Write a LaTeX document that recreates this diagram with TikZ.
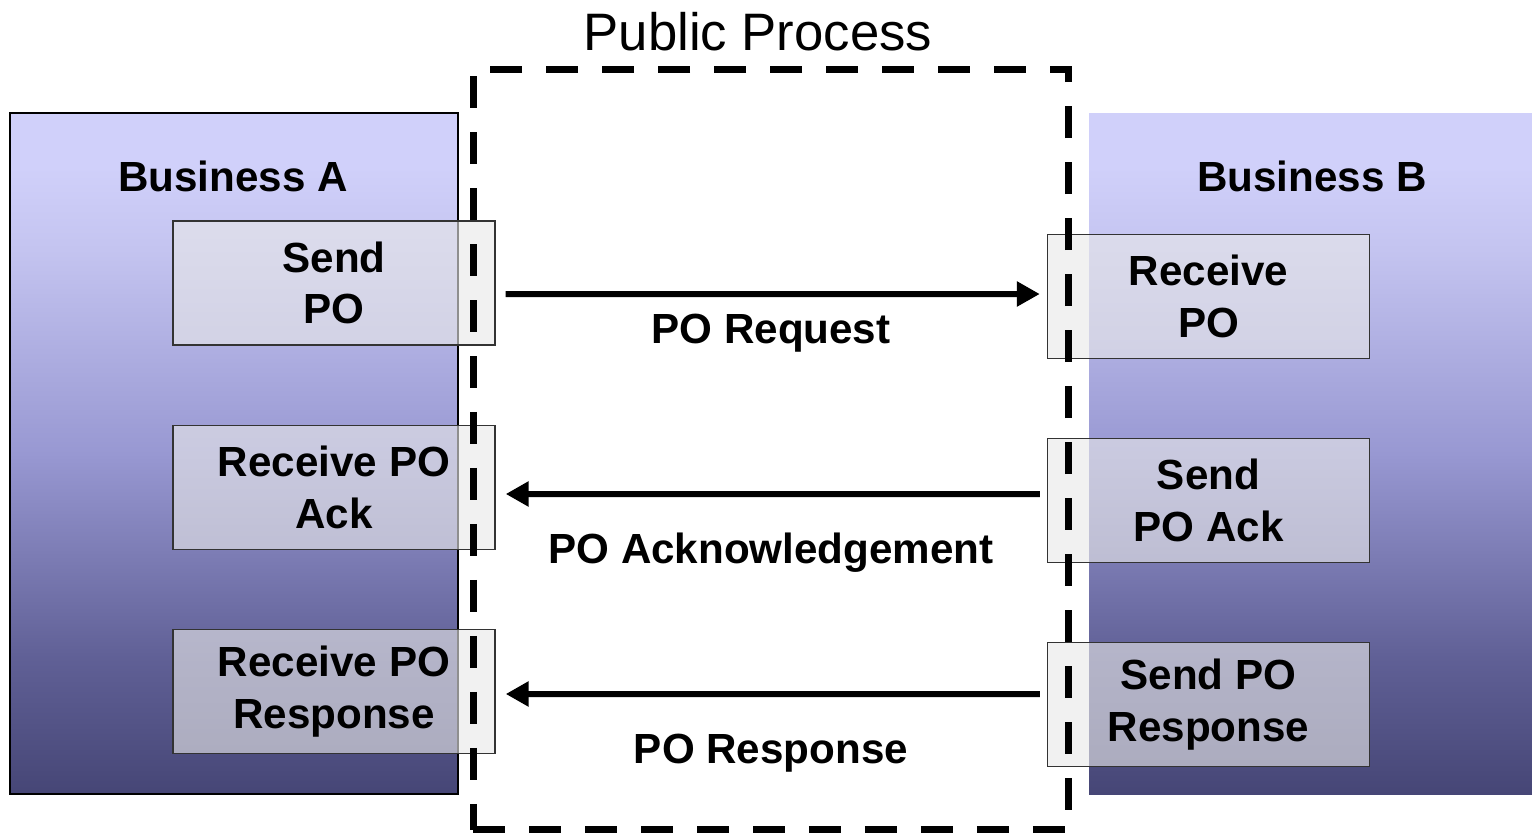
\documentclass[tikz,border=0pt]{standalone}
\usepackage{fontspec}
\setmainfont{Liberation Sans}
\usetikzlibrary{arrows.meta,positioning}

\definecolor{paneltop}{RGB}{208,208,250}
\definecolor{panelhigh}{RGB}{196,196,240}
\definecolor{panelmid}{RGB}{152,152,210}
\definecolor{panellow}{RGB}{96,96,150}
\definecolor{panelbot}{RGB}{70,70,118}
\pgfdeclareverticalshading{bizgrad}{100bp}{color(0bp)=(panelbot); color(25bp)=(panelbot);
  color(35bp)=(panellow); color(50bp)=(panelmid); color(65bp)=(panelhigh); color(71bp)=(paneltop);
  color(100bp)=(paneltop)}

\begin{document}
\begin{tikzpicture}[x=0.02cm,y=-0.02cm]
      \tikzstyle{panel}=[shading=bizgrad]
      \tikzstyle{task}=[rectangle,draw=black!80,line width=0.03cm,fill=black!9,fill opacity=0.62,text opacity=1,
        minimum width=6.44cm,minimum height=2.48cm,inner sep=0pt,align=center,
        font=\fontsize{24}{29.5}\selectfont\bfseries]
      \tikzstyle{title}=[anchor=base,font=\fontsize{24}{28}\selectfont\bfseries]
      \tikzstyle{msg}=[-{Triangle[length=0.46cm,width=0.48cm]},line width=0.12cm]
      \tikzstyle{pubproc}=[rectangle,draw=black,line width=0.14cm,dash pattern=on 0.64cm off 0.48cm,
        minimum width=11.92cm,minimum height=15.22cm,inner sep=0pt]

      \useasboundingbox (0,0) rectangle (1532,835);

      % the two businesses
      \shade[panel,draw=black,line width=0.04cm] (10,113) rectangle (458,794);
      \shade[panel] (1089,113) rectangle (1532,794);
      \node[title] (busa) at (233,191) {Business A};
      \node[title] (busb) at (1312,191) {Business B};

      \node[task] (sendpo) at (334,283) {Send\\PO};
      \node[task] (recack) at (334,487.5) {Receive PO\\Ack};
      \node[task] (recresp) at (334,691.5) {Receive PO\\Response};

      \node[task] (recpo) at (1208.5,296.5) {Receive\\PO};
      \node[task] (sendack) at (1208.5,500.5) {Send\\PO Ack};
      \node[task] (sendresp) at (1208.5,704.5) {Send PO\\Response};

      % messages
      \draw[msg] ([xshift=0.2cm,yshift=-0.22cm]sendpo.east) -- ([xshift=-0.14cm,yshift=0.05cm]recpo.west);
      \draw[msg] ([xshift=-0.14cm,yshift=0.13cm]sendack.west) -- ([xshift=0.2cm,yshift=-0.13cm]recack.east);
      \draw[msg] ([xshift=-0.14cm,yshift=0.21cm]sendresp.west) -- ([xshift=0.2cm,yshift=-0.05cm]recresp.east);

      \node[title] (lreq) at (771,343) {PO Request};
      \node[title] (lack) at (771,563) {PO Acknowledgement};
      \node[title] (lresp) at (771,763) {PO Response};

      % public process
      \node[pubproc] (pp) at (771,449.5) {};
      \node[anchor=base,font=\fontsize{30}{36}\selectfont] (pptitle) at (758,51) {Public Process};
\end{tikzpicture}
\end{document}
